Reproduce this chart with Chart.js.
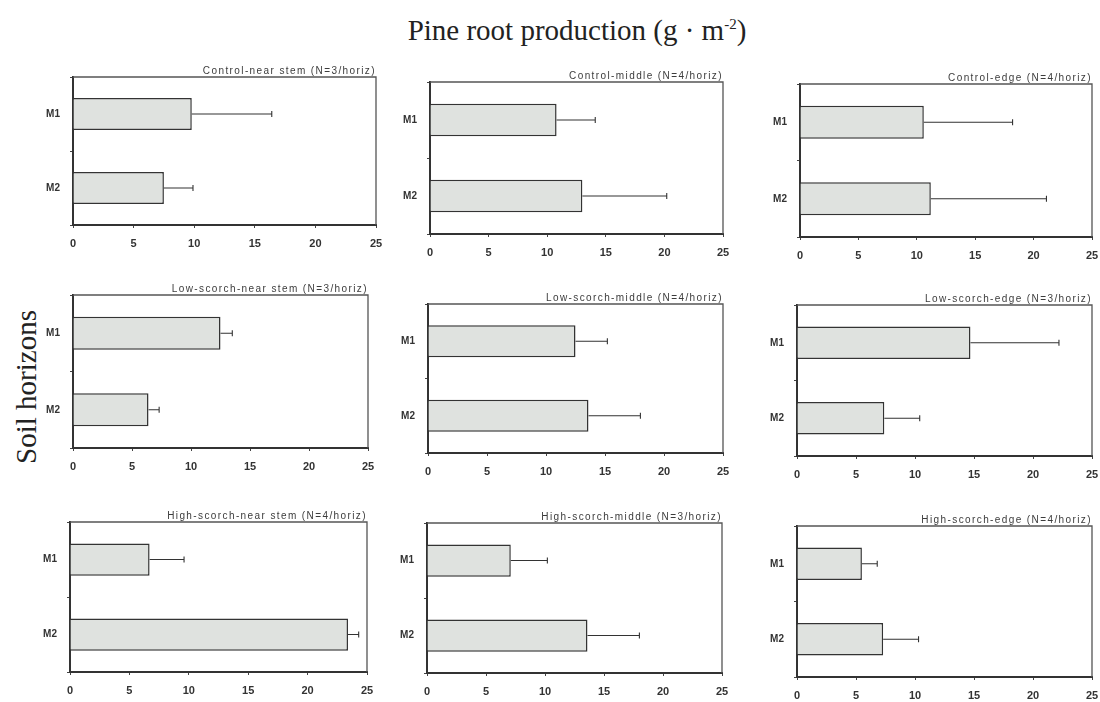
<!DOCTYPE html>
<html>
<head>
<meta charset="utf-8">
<script src="https://cdn.jsdelivr.net/npm/chart.js@4/dist/chart.umd.min.js"></script>
<style>
  html, body { margin: 0; padding: 0; background: #fff; }
  #page { position: relative; width: 1100px; height: 702px; overflow: hidden; background: #fff; }
  .panel { position: absolute; }
  #mainTitle {
    position: absolute; left: 0; width: 1154px; top: 14px; text-align: center;
    font-family: "Liberation Serif", "DejaVu Serif", serif; font-size: 29px; color: #222;
  }
  #mainTitle sup { font-size: 15px; }
  #yTitle {
    position: absolute; left: 26px; top: 387px; transform: translate(-50%, -50%) rotate(-90deg);
    white-space: nowrap; font-family: "Liberation Serif", "DejaVu Serif", serif; font-size: 29px; color: #222;
  }
</style>
</head>
<body>
<div id="page">
  <div id="mainTitle">Pine root production (g · m<sup>-2</sup>)</div>
  <div id="yTitle">Soil horizons</div>
</div>
<script>
// Soil horizons shown in every panel
const horizons = ['M1', 'M2'];

// Panel titles, row by row (treatment × position)
const panelTitles = [
  'Control-near stem (N=3/horiz)', 'Control-middle (N=4/horiz)', 'Control-edge (N=4/horiz)',
  'Low-scorch-near stem (N=3/horiz)', 'Low-scorch-middle (N=4/horiz)', 'Low-scorch-edge (N=3/horiz)',
  'High-scorch-near stem (N=4/horiz)', 'High-scorch-middle (N=3/horiz)', 'High-scorch-edge (N=4/horiz)'
];

// Mean production per panel (g m-2)
const meanM1 = [9.8, 10.8, 10.6, 12.5, 12.5, 14.7, 6.7, 7.1, 5.5];
const meanM2 = [7.5, 13.0, 11.2, 6.4, 13.6, 7.4, 23.4, 13.6, 7.3];

// Standard error per panel (g m-2)
const errM1 = [6.6, 3.3, 7.6, 1.0, 2.7, 7.5, 2.9, 3.1, 1.3];
const errM2 = [2.4, 7.2, 9.9, 0.9, 4.4, 3.0, 0.9, 4.4, 3.0];

// Axis ticks
const xTicks = [0, 5, 10, 15, 20, 25];

// Plot-area boxes of the 3×3 grid: [left, top, right, bottom]
const frames = [
  [73, 77, 376, 225], [430, 82, 723, 234], [800, 84, 1092, 237],
  [73, 295, 368, 448], [428, 304, 723, 453], [797, 305, 1092, 456],
  [70, 522, 367, 672], [427, 523, 722, 673], [797, 526, 1092, 677]
];

const PAD_LEFT = 44, PAD_TOP = 16, PAD_RIGHT = 8, PAD_BOTTOM = 30;
const INK = '#333';

// Error bars (positive side, with end cap), thin top/right frame and panel title
const panelDecor = {
  id: 'panelDecor',
  beforeDatasetsDraw(chart) {
    const { ctx, chartArea: a } = chart;
    ctx.save();
    ctx.strokeStyle = '#555';
    ctx.lineWidth = 1.3;
    ctx.beginPath();
    ctx.moveTo(a.left, a.top);
    ctx.lineTo(a.right, a.top);
    ctx.lineTo(a.right, a.bottom);
    ctx.stroke();
    ctx.restore();
  },
  afterDatasetsDraw(chart, args, opts) {
    const { ctx } = chart;
    const xs = chart.scales.x;
    const meta = chart.getDatasetMeta(0);
    const ds = chart.data.datasets[0];
    ctx.save();
    ctx.strokeStyle = INK;
    ctx.lineWidth = 1.1;
    meta.data.forEach((bar, i) => {
      const v = ds.data[i];
      const e = ds.errors[i];
      const x0 = xs.getPixelForValue(v);
      const x1 = xs.getPixelForValue(v + e);
      const y = bar.y;
      ctx.beginPath();
      ctx.moveTo(x0, y);
      ctx.lineTo(x1, y);
      ctx.moveTo(x1, y - 3);
      ctx.lineTo(x1, y + 3);
      ctx.stroke();
    });
    // panel title, right-aligned on the top frame line
    const a = chart.chartArea;
    ctx.fillStyle = '#3c3c3c';
    ctx.font = '10px "Liberation Sans", Arial, sans-serif';
    if ('letterSpacing' in ctx) ctx.letterSpacing = '1.4px';
    ctx.textAlign = 'right';
    ctx.textBaseline = 'bottom';
    ctx.fillText(opts.title, a.right, a.top - 1);
    ctx.restore();
  }
};

const page = document.getElementById('page');

frames.forEach((f, k) => {
  const [l, t, r, b] = f;
  const w = (r - l) + PAD_LEFT + PAD_RIGHT;
  const h = (b - t) + PAD_TOP + PAD_BOTTOM;
  const holder = document.createElement('div');
  holder.className = 'panel';
  holder.style.left = (l - PAD_LEFT) + 'px';
  holder.style.top = (t - PAD_TOP) + 'px';
  holder.style.width = w + 'px';
  holder.style.height = h + 'px';
  const cv = document.createElement('canvas');
  holder.appendChild(cv);
  page.appendChild(holder);

  new Chart(cv, {
    type: 'bar',
    data: {
      labels: horizons,
      datasets: [{
        data: [meanM1[k], meanM2[k]],
        errors: [errM1[k], errM2[k]],
        backgroundColor: '#dfe2df',
        borderColor: INK,
        borderWidth: 1.5,
        borderSkipped: 'start',
        barPercentage: 0.43,
        categoryPercentage: 1.0
      }]
    },
    options: {
      indexAxis: 'y',
      responsive: true,
      maintainAspectRatio: false,
      animation: false,
      events: [],
      layout: { padding: { left: 0, top: PAD_TOP, right: PAD_RIGHT, bottom: 0 } },
      plugins: {
        legend: { display: false },
        tooltip: { enabled: false },
        panelDecor: { title: panelTitles[k] }
      },
      scales: {
        x: {
          type: 'linear',
          min: xTicks[0],
          max: xTicks[xTicks.length - 1],
          afterBuildTicks(scale) { scale.ticks = xTicks.map(v => ({ value: v })); },
          afterFit(scale) {
            scale.height = PAD_BOTTOM;
            scale.paddingLeft = 0;
            scale.paddingRight = 0;
          },
          border: { display: true, color: '#333', width: 2 },
          grid: { display: true, drawOnChartArea: false, drawTicks: true, tickLength: 3, color: '#444', lineWidth: 1 },
          ticks: {
            color: '#333', padding: 9,
            font: { family: '"Liberation Sans", Arial, sans-serif', size: 11, weight: 'bold' },
            maxRotation: 0, autoSkip: false
          }
        },
        y: {
          type: 'category',
          afterFit(scale) {
            scale.width = PAD_LEFT;
            scale.paddingTop = 0;
            scale.paddingBottom = 0;
          },
          border: { display: true, color: '#333', width: 2 },
          grid: { display: true, offset: true, drawOnChartArea: false, drawTicks: true, tickLength: 3, color: '#444', lineWidth: 1 },
          ticks: {
            color: '#333', padding: 10,
            font: { family: '"Liberation Sans", Arial, sans-serif', size: 10, weight: 'bold' }
          }
        }
      }
    },
    plugins: [panelDecor]
  });
});
</script>
</body>
</html>
